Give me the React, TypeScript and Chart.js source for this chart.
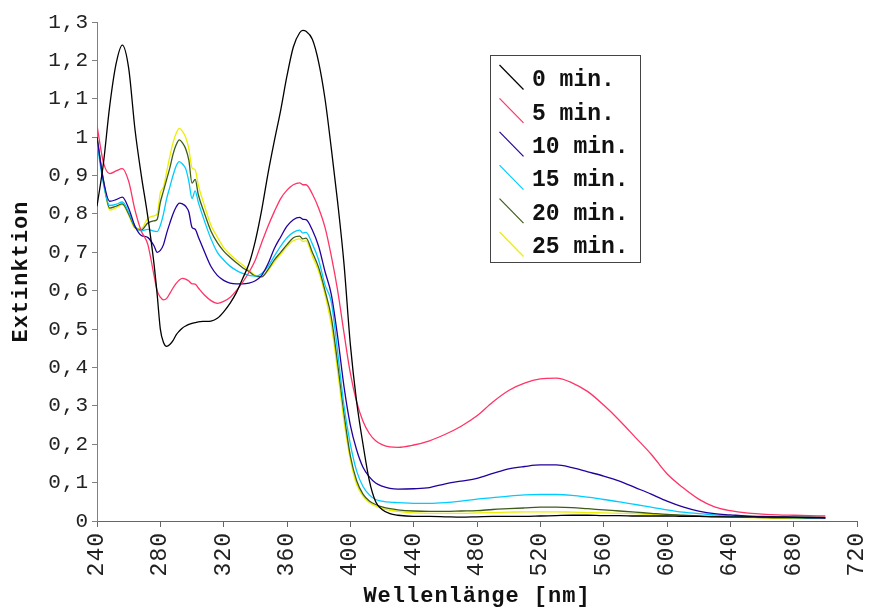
import React, { useEffect, useRef } from "react";
import { Chart, registerables } from "chart.js";
Chart.register(...registerables);

const wavelengths = [
  240, 244, 248, 252, 256, 260, 264, 268, 272, 276, 278, 280, 282, 284, 286, 288, 290, 292, 294, 296, 298, 300,
  302, 304, 308, 312, 316, 320, 324, 328, 332, 336, 340, 344, 348, 352, 356, 360, 364, 368, 370, 372, 376, 380,
  384, 388, 392, 396, 400, 404, 408, 412, 416, 420, 425, 430, 440, 450, 460, 470, 480, 490, 500, 510, 520, 530,
  540, 550, 560, 570, 580, 590, 600, 610, 620, 630, 640, 650, 660, 670, 680, 690, 700,
];

const ext0min = [
  0.82, 0.93, 1.08, 1.19, 1.24, 1.18, 1.02, 0.9, 0.795, 0.67, 0.59, 0.5, 0.465, 0.455, 0.46, 0.47, 0.485, 0.495, 0.503, 0.508, 0.512, 0.515,
  0.517, 0.519, 0.52, 0.521, 0.528, 0.545, 0.567, 0.595, 0.632, 0.67, 0.73, 0.81, 0.905, 0.99, 1.07, 1.16, 1.235, 1.272, 1.278, 1.276, 1.255, 1.195,
  1.1, 0.97, 0.83, 0.67, 0.46, 0.31, 0.2, 0.105, 0.05, 0.03, 0.019, 0.015, 0.012, 0.012, 0.011, 0.01, 0.011, 0.012, 0.012, 0.012, 0.013, 0.014,
  0.015, 0.015, 0.014, 0.014, 0.013, 0.013, 0.013, 0.012, 0.012, 0.011, 0.011, 0.011, 0.01, 0.01, 0.01, 0.01, 0.009,
];

const ext5min = [
  1.03, 0.935, 0.905, 0.912, 0.918, 0.885, 0.81, 0.755, 0.722, 0.64, 0.6, 0.583, 0.576, 0.58, 0.593, 0.607, 0.619, 0.628, 0.632, 0.63, 0.625, 0.618,
  0.617, 0.607, 0.588, 0.574, 0.567, 0.572, 0.582, 0.6, 0.622, 0.648, 0.68, 0.725, 0.768, 0.806, 0.84, 0.862, 0.876, 0.881, 0.876, 0.876, 0.852, 0.815,
  0.765, 0.69, 0.6, 0.49, 0.385, 0.31, 0.26, 0.228, 0.209, 0.199, 0.193, 0.192, 0.198, 0.209, 0.226, 0.247, 0.274, 0.31, 0.34, 0.359, 0.37, 0.372,
  0.36, 0.337, 0.302, 0.262, 0.218, 0.174, 0.123, 0.087, 0.057, 0.037, 0.027, 0.021, 0.018, 0.016, 0.015, 0.014, 0.013,
];

const ext10min = [
  1.0, 0.888, 0.833, 0.837, 0.844, 0.815, 0.768, 0.744, 0.739, 0.717, 0.7, 0.705, 0.72, 0.75, 0.776, 0.8, 0.818, 0.828, 0.826, 0.82, 0.805, 0.765,
  0.76, 0.74, 0.7, 0.663, 0.64, 0.627, 0.62, 0.618, 0.618, 0.62, 0.626, 0.64, 0.67, 0.71, 0.74, 0.768, 0.785, 0.791, 0.786, 0.785, 0.758, 0.715,
  0.65, 0.59, 0.48, 0.35, 0.25, 0.185, 0.14, 0.115, 0.099, 0.091, 0.085, 0.083, 0.084, 0.087, 0.097, 0.104, 0.111, 0.124, 0.136, 0.142, 0.146, 0.146,
  0.139, 0.128, 0.117, 0.104, 0.087, 0.07, 0.052, 0.037, 0.026, 0.019, 0.016, 0.013, 0.012, 0.011, 0.01, 0.009, 0.008,
];

const ext15min = [
  0.985, 0.88, 0.822, 0.825, 0.831, 0.805, 0.768, 0.756, 0.76, 0.755, 0.754, 0.77, 0.8, 0.84, 0.87, 0.9, 0.925, 0.936, 0.93, 0.918, 0.885, 0.84,
  0.86, 0.83, 0.78, 0.735, 0.7, 0.68, 0.664, 0.653, 0.645, 0.64, 0.638, 0.645, 0.663, 0.69, 0.716, 0.738, 0.752, 0.758, 0.75, 0.752, 0.722, 0.68,
  0.615, 0.57, 0.44, 0.3, 0.2, 0.13, 0.09, 0.068, 0.056, 0.052, 0.049, 0.048, 0.046, 0.046, 0.048, 0.052, 0.057, 0.061, 0.065, 0.068, 0.069, 0.069,
  0.067, 0.062, 0.056, 0.05, 0.043, 0.036, 0.029, 0.023, 0.019, 0.016, 0.013, 0.011, 0.01, 0.01, 0.009, 0.009, 0.009,
];

const ext20min = [
  1.0, 0.89, 0.815, 0.82, 0.826, 0.8, 0.765, 0.758, 0.776, 0.782, 0.786, 0.83, 0.86, 0.89, 0.92, 0.955, 0.98, 0.993, 0.985, 0.97, 0.94, 0.88,
  0.89, 0.85, 0.8, 0.755, 0.725, 0.703, 0.687, 0.673, 0.66, 0.65, 0.638, 0.636, 0.655, 0.68, 0.7, 0.72, 0.738, 0.742, 0.735, 0.737, 0.7, 0.66,
  0.6, 0.53, 0.41, 0.28, 0.17, 0.105, 0.07, 0.052, 0.043, 0.037, 0.032, 0.029, 0.026, 0.025, 0.025, 0.026, 0.027, 0.03, 0.032, 0.034, 0.036, 0.036,
  0.035, 0.032, 0.029, 0.026, 0.023, 0.02, 0.017, 0.015, 0.013, 0.012, 0.011, 0.01, 0.009, 0.008, 0.008, 0.007, 0.007,
];

const ext25min = [
  1.0, 0.885, 0.81, 0.816, 0.824, 0.797, 0.763, 0.762, 0.788, 0.795, 0.8, 0.855, 0.87, 0.91, 0.95, 0.985, 1.01, 1.023, 1.015, 1.0, 0.97, 0.92,
  0.915, 0.875, 0.82, 0.77, 0.74, 0.712, 0.695, 0.68, 0.667, 0.653, 0.64, 0.637, 0.652, 0.675, 0.695, 0.715, 0.73, 0.735, 0.728, 0.73, 0.69, 0.65,
  0.59, 0.51, 0.39, 0.26, 0.16, 0.095, 0.065, 0.048, 0.039, 0.032, 0.028, 0.025, 0.021, 0.02, 0.02, 0.02, 0.021, 0.022, 0.023, 0.024, 0.024, 0.024,
  0.023, 0.022, 0.021, 0.02, 0.019, 0.017, 0.016, 0.014, 0.012, 0.011, 0.01, 0.009, 0.008, 0.007, 0.007, 0.006, 0.006,
];

const seriesLabels = ["0 min.", "5 min.", "10 min.", "15 min.", "20 min.", "25 min."];
const seriesValues = [ext0min, ext5min, ext10min, ext15min, ext20min, ext25min];
const seriesColors = ["#000000", "#ff3366", "#22009c", "#00ccff", "#3d5c1a", "#eeee00"];

const xTicks = [240, 280, 320, 360, 400, 440, 480, 520, 560, 600, 640, 680, 720];
const yTicks = [0, 0.1, 0.2, 0.3, 0.4, 0.5, 0.6, 0.7, 0.8, 0.9, 1.0, 1.1, 1.2, 1.3];

const xTitle = "Wellenlänge [nm]";
const yTitle = "Extinktion";

const MONO = '"Liberation Mono", "Courier New", monospace';

const scaleTextSpacing = {
  id: "scaleTextSpacing",
  beforeDraw(chart: any) {
    chart.ctx.letterSpacing = "1px";
  },
  beforeDatasetsDraw(chart: any) {
    chart.ctx.letterSpacing = "0px";
  },
};

const boxLegend = {
  id: "boxLegend",
  afterDatasetsDraw(chart: any) {
    const ctx = chart.ctx;
    const left = 490.5;
    const top = 55.5;
    ctx.save();
    ctx.letterSpacing = "0px";
    ctx.fillStyle = "#ffffff";
    ctx.fillRect(left, top, 150, 207);
    ctx.strokeStyle = "#444444";
    ctx.lineWidth = 1;
    ctx.strokeRect(left, top, 150, 207);
    chart.data.datasets.forEach((ds: any, i: number) => {
      const y0 = top + 9.5 + i * 33.4;
      ctx.strokeStyle = ds.borderColor;
      ctx.lineWidth = 1.2;
      ctx.beginPath();
      ctx.moveTo(left + 9, y0);
      ctx.lineTo(left + 33, y0 + 24.5);
      ctx.stroke();
      ctx.fillStyle = "#111111";
      ctx.font = "bold 23px " + MONO;
      ctx.textBaseline = "middle";
      ctx.textAlign = "left";
      ctx.fillText(ds.label, left + 41.5, y0 + 15.5);
    });
    ctx.restore();
  },
};

function fmtY(v: number) {
  return (Math.round(v * 10) / 10).toString().replace(".", ",");
}

export default function App() {
  const ref = useRef<HTMLCanvasElement | null>(null);

  useEffect(() => {
    if (!ref.current) return;
    const datasets = seriesLabels.map((label, i) => ({
      label,
      data: wavelengths.map((w, j) => ({ x: w, y: seriesValues[i][j] })),
      borderColor: seriesColors[i],
      backgroundColor: seriesColors[i],
      borderWidth: 1.3,
      pointRadius: 0,
      fill: false,
      cubicInterpolationMode: "monotone" as const,
    }));

    const chart = new Chart(ref.current, {
      type: "line",
      data: { datasets },
      plugins: [scaleTextSpacing, boxLegend],
      options: {
        responsive: false,
        animation: false,
        layout: { padding: { top: 22, right: 14, left: 0, bottom: 0 } },
        plugins: { legend: { display: false }, tooltip: { enabled: false } },
        scales: {
          x: {
            type: "linear",
            min: 240,
            max: 720,
            afterBuildTicks: (scale: any) => {
              scale.ticks = xTicks.map((v) => ({ value: v }));
            },
            afterFit: (scale: any) => {
              scale.height = 86;
              scale.paddingLeft = 0;
              scale.paddingRight = 0;
            },
            ticks: {
              autoSkip: false,
              minRotation: 90,
              maxRotation: 90,
              padding: 5,
              color: "#222222",
              font: { family: MONO, size: 23 },
              callback: (v: any) => String(v),
            },
            grid: { drawOnChartArea: false, drawTicks: true, tickLength: 6, color: "#666666" },
            border: { display: true, color: "#666666", width: 1 },
            title: {
              display: true,
              text: xTitle,
              color: "#111111",
              font: { family: MONO, size: 22, weight: "bold", lineHeight: 1 },
              padding: { top: 0, bottom: 0 },
            },
          },
          y: {
            type: "linear",
            min: 0,
            max: 1.3,
            afterBuildTicks: (scale: any) => {
              scale.ticks = yTicks.map((v) => ({ value: v }));
            },
            afterFit: (scale: any) => {
              scale.width = 97;
            },
            ticks: {
              autoSkip: false,
              padding: 3,
              color: "#222222",
              font: { family: MONO, size: 21 },
              callback: (v: any) => fmtY(Number(v)),
            },
            grid: { drawOnChartArea: false, drawTicks: true, tickLength: 5, color: "#808080" },
            border: { display: true, color: "#808080", width: 1 },
            title: {
              display: true,
              text: yTitle,
              color: "#111111",
              font: { family: MONO, size: 22, weight: "bold", lineHeight: 1 },
              padding: { top: 10, bottom: 0 },
            },
          },
        },
      },
    });
    return () => chart.destroy();
  }, []);

  return (
    <div style={{ position: "fixed", left: 0, top: 0, width: 871, height: 607, background: "#fff" }}>
      <canvas ref={ref} width={871} height={607} style={{ display: "block", width: 871, height: 607 }} />
    </div>
  );
}
